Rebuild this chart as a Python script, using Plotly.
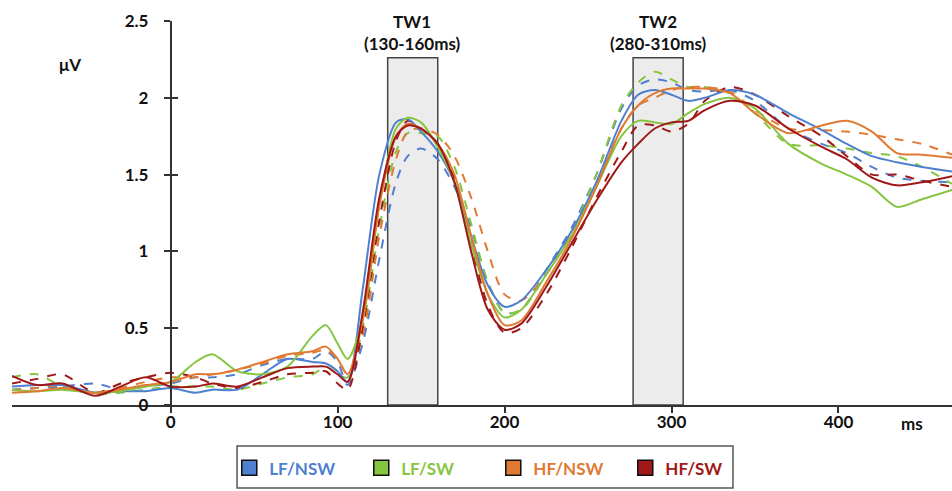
import plotly.graph_objects as go

# time points (ms) shared by all waveforms
time_ms = [-95, -80, -65, -45, -30, -15, 0, 15, 25, 40, 55, 70, 85, 93, 100, 106,
           115, 125, 135, 142, 150, 160, 170, 180, 190, 200, 210, 225, 240, 255,
           270, 280, 290, 300, 310, 320, 335, 350, 370, 390, 405, 420, 435, 450, 468]

# amplitudes (microvolts), solid = first set, dashed = second set
lf_nsw_solid = [0.12, 0.13, 0.13, 0.08, 0.09, 0.09, 0.11, 0.08, 0.10, 0.10, 0.20, 0.30, 0.28, 0.27, 0.22, 0.15,
                0.75, 1.50, 1.84, 1.86, 1.78, 1.65, 1.45, 1.10, 0.78, 0.64, 0.68, 0.88, 1.13, 1.45,
                1.85, 2.02, 2.05, 2.02, 1.98, 2.00, 2.05, 2.02, 1.90, 1.79, 1.70, 1.62, 1.58, 1.55, 1.52]
lf_nsw_dash = [0.10, 0.11, 0.12, 0.14, 0.10, 0.12, 0.14, 0.18, 0.18, 0.20, 0.26, 0.30, 0.30, 0.35, 0.28, 0.13,
               0.40, 0.95, 1.45, 1.62, 1.67, 1.60, 1.42, 1.15, 0.80, 0.60, 0.62, 0.88, 1.15, 1.50,
               1.93, 2.08, 2.12, 2.10, 2.05, 2.04, 2.05, 1.98, 1.80, 1.70, 1.64, 1.55, 1.48, 1.46, 1.45]
lf_sw_solid = [0.10, 0.09, 0.10, 0.08, 0.09, 0.12, 0.15, 0.28, 0.33, 0.22, 0.20, 0.25, 0.45, 0.52, 0.40, 0.30,
               0.55, 1.30, 1.80, 1.87, 1.84, 1.68, 1.45, 1.05, 0.72, 0.57, 0.62, 0.85, 1.10, 1.42,
               1.75, 1.85, 1.84, 1.83, 1.90, 1.96, 2.00, 1.93, 1.70, 1.57, 1.50, 1.42, 1.29, 1.34, 1.40]
lf_sw_dash = [0.18, 0.20, 0.12, 0.07, 0.08, 0.10, 0.12, 0.12, 0.12, 0.10, 0.14, 0.18, 0.20, 0.25, 0.20, 0.18,
              0.50, 1.15, 1.65, 1.77, 1.77, 1.75, 1.55, 1.18, 0.80, 0.60, 0.62, 0.85, 1.12, 1.50,
              1.95, 2.10, 2.17, 2.12, 2.07, 2.07, 2.03, 1.90, 1.70, 1.69, 1.67, 1.64, 1.62, 1.55, 1.44]
hf_nsw_solid = [0.08, 0.09, 0.11, 0.08, 0.10, 0.13, 0.15, 0.20, 0.20, 0.23, 0.28, 0.33, 0.35, 0.38, 0.30, 0.20,
                0.55, 1.30, 1.75, 1.83, 1.80, 1.70, 1.50, 1.10, 0.72, 0.52, 0.55, 0.80, 1.08, 1.42,
                1.80, 1.95, 2.03, 2.06, 2.06, 2.06, 2.03, 1.90, 1.77, 1.82, 1.85, 1.78, 1.64, 1.63, 1.61]
hf_nsw_dash = [0.10, 0.11, 0.13, 0.08, 0.11, 0.15, 0.18, 0.18, 0.20, 0.23, 0.27, 0.32, 0.34, 0.36, 0.30, 0.20,
               0.45, 1.10, 1.60, 1.78, 1.80, 1.76, 1.62, 1.35, 1.00, 0.72, 0.68, 0.85, 1.12, 1.45,
               1.80, 1.95, 2.00, 2.05, 2.07, 2.07, 2.04, 1.92, 1.80, 1.79, 1.78, 1.76, 1.73, 1.70, 1.63]
hf_sw_solid = [0.19, 0.13, 0.14, 0.06, 0.12, 0.18, 0.12, 0.12, 0.14, 0.12, 0.18, 0.24, 0.25, 0.25, 0.20, 0.15,
               0.60, 1.35, 1.75, 1.82, 1.80, 1.70, 1.45, 1.00, 0.62, 0.49, 0.53, 0.77, 1.05, 1.33,
               1.58, 1.70, 1.80, 1.84, 1.85, 1.92, 1.98, 1.95, 1.80, 1.68, 1.60, 1.48, 1.43, 1.45, 1.49]
hf_sw_dash = [0.14, 0.17, 0.20, 0.08, 0.14, 0.18, 0.21, 0.18, 0.14, 0.11, 0.15, 0.20, 0.21, 0.22, 0.14, 0.10,
              0.50, 1.20, 1.72, 1.85, 1.80, 1.70, 1.48, 1.05, 0.65, 0.47, 0.50, 0.72, 1.02, 1.35,
              1.65, 1.82, 1.82, 1.78, 1.83, 1.98, 2.07, 2.02, 1.88, 1.75, 1.62, 1.50, 1.50, 1.46, 1.42]

conditions = ["LF/NSW", "LF/SW", "HF/NSW", "HF/SW"]
colors = ["#4f7fcf", "#86c540", "#e07a32", "#a01818"]
solid_series = [lf_nsw_solid, lf_sw_solid, hf_nsw_solid, hf_sw_solid]
dash_series = [lf_nsw_dash, lf_sw_dash, hf_nsw_dash, hf_sw_dash]

# time windows
tw_labels = ["TW1<br>(130-160ms)", "TW2<br>(280-310ms)"]
tw_start = [130, 277]
tw_end = [160, 307]

x_range = [-95, 468]
y_ticks = [0, 0.5, 1, 1.5, 2, 2.5]
y_ticktext = ["0", "0.5", "1", "1.5", "2", "2.5"]
x_ticks = [0, 100, 200, 300, 400]

FONT = "Lato, Arial, sans-serif"

fig = go.Figure()

for vals, col in zip(dash_series, colors):
    fig.add_trace(go.Scatter(x=time_ms, y=vals, mode="lines", showlegend=False,
                             line=dict(color=col, width=2, dash="dash", shape="spline", smoothing=0.8)))
for vals, col in zip(solid_series, colors):
    fig.add_trace(go.Scatter(x=time_ms, y=vals, mode="lines", showlegend=False,
                             line=dict(color=col, width=2, shape="spline", smoothing=0.8)))

# legend entries (square swatches with coloured text)
for name, col in zip(conditions, colors):
    fig.add_trace(go.Scatter(x=[None], y=[None], mode="markers",
                             name=f"<span style='color:{col}'><b>{name}</b></span>",
                             marker=dict(symbol="square", size=15, color=col,
                                         line=dict(color="#111", width=1.5))))

# empty trace so the overlay axis (inside ticks) is drawn
fig.add_trace(go.Scatter(x=[None], y=[None], yaxis="y2", showlegend=False, hoverinfo="skip"))

for lab, x0, x1 in zip(tw_labels, tw_start, tw_end):
    fig.add_shape(type="rect", x0=x0, x1=x1, y0=0, y1=2.26, xref="x", yref="y",
                  fillcolor="#ececec", line=dict(color="#444", width=1.5), layer="below")
    fig.add_annotation(x=(x0 + x1) / 2, y=0.971, xref="x", yref="paper", text=f"<b>{lab}</b>",
                       showarrow=False, xanchor="center", yanchor="middle",
                       font=dict(family=FONT, size=17, color="#111"))

# frame around the legend
fig.add_shape(type="rect", xref="paper", yref="paper", x0=0.2394, x1=0.767, y0=-0.216, y1=-0.1068,
              line=dict(color="#555", width=1.5), fillcolor="rgba(0,0,0,0)")

fig.add_annotation(x=0.062, y=0.888, xref="paper", yref="paper", text="<b>μV</b>",
                   showarrow=False, xanchor="center", yanchor="middle",
                   font=dict(family=FONT, size=17, color="#111"))
fig.add_annotation(x=0.957, y=-0.047, xref="paper", yref="paper", text="<b>ms</b>",
                   showarrow=False, xanchor="center", yanchor="middle",
                   font=dict(family=FONT, size=17, color="#111"))

ypos = (0 - x_range[0]) / (x_range[1] - x_range[0])

fig.update_layout(
    width=952, height=491,
    margin=dict(l=12, r=0, t=21, b=86),
    plot_bgcolor="white", paper_bgcolor="white",
    font=dict(family=FONT, size=17, color="#111"),
    xaxis=dict(range=x_range, showgrid=False, zeroline=False, showline=True, automargin=False,
               linecolor="#333", linewidth=1.5, ticks="outside", ticklen=6,
               tickcolor="#333", tickwidth=1.5, tickvals=x_ticks,
               ticktext=[f"<b>{v}</b>" for v in x_ticks], ticklabelstandoff=-5),
    yaxis=dict(range=[0, 2.5], anchor="free", position=ypos, showgrid=False, automargin=False,
               zeroline=False, showline=True, linecolor="#333", linewidth=1.5,
               ticks="outside", ticklen=6, tickcolor="#333", tickwidth=1.5,
               tickvals=y_ticks, ticktext=[f"<b>{t}</b>" for t in y_ticktext],
               ticklabelstandoff=12),
    yaxis2=dict(range=[0, 2.5], overlaying="y", anchor="free", position=ypos, automargin=False,
                showgrid=False, zeroline=False, showline=False, ticks="inside",
                ticklen=6, tickcolor="#333", tickwidth=1.5, tickvals=y_ticks,
                showticklabels=False),
    showlegend=True,
    legend=dict(orientation="h", x=0.512, xanchor="center", y=-0.118, yanchor="top",
                borderwidth=0, entrywidth=87, bgcolor="rgba(0,0,0,0)",
                font=dict(family=FONT, size=17)),
)

# drop the default page margin so the figure fills the window
fig.write_html("out.html", config={"displayModeBar": False},
               post_script="document.body.style.margin = '0px';")
